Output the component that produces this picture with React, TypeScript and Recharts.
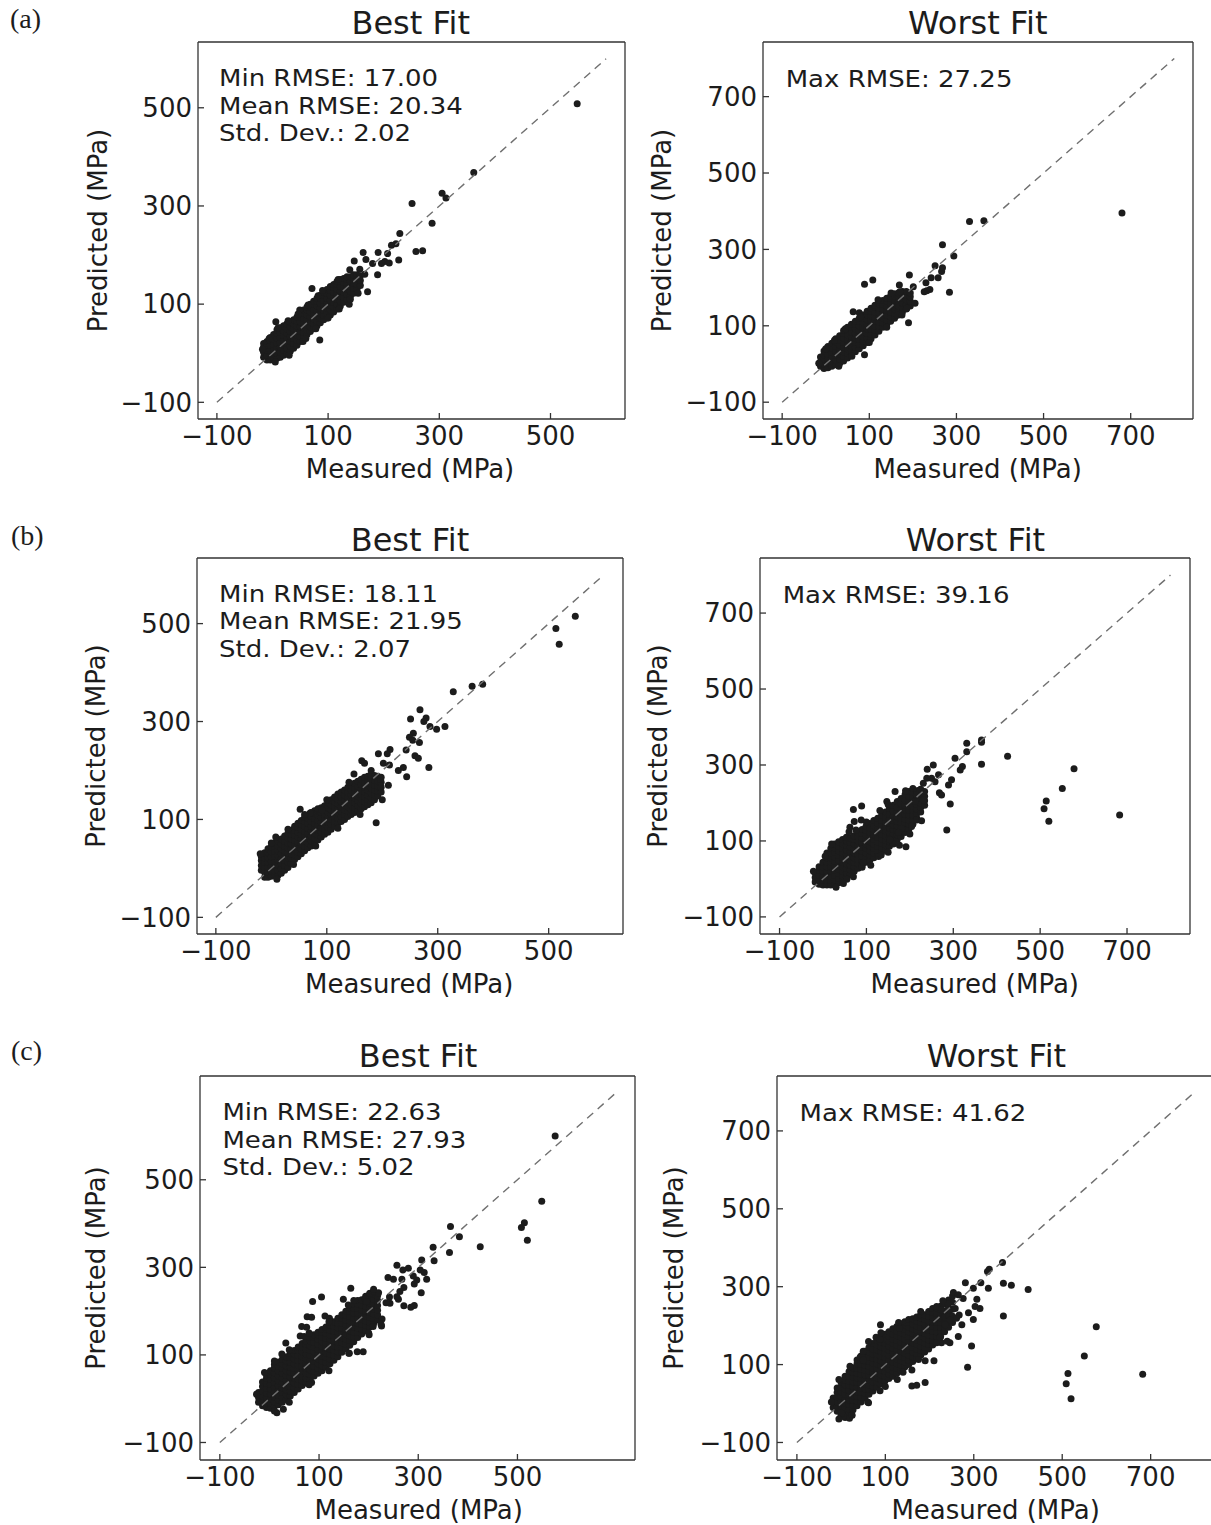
import React from 'react';
import { ScatterChart, Scatter, XAxis, YAxis } from 'recharts';

type P = [number, number];
type Col = [number, number[]];

// ---------- (a) Best fit ----------
const bestACols: Col[] = [
[-16, [-8, 2, 12, 20]],
[-10, [-14, -4, 6, 16, 24]],
[-4, [-14, -4, 6, 16, 26, 32]],
[2, [-12, -2, 8, 18, 28, 38]],
[8, [-10, 0, 10, 20, 30, 40, 48]],
[14, [-8, 2, 12, 22, 32, 42, 52]],
[20, [-4, 6, 16, 26, 36, 46, 56]],
[26, [0, 10, 20, 30, 40, 50, 60]],
[32, [4, 14, 24, 34, 44, 54, 64]],
[38, [10, 20, 30, 40, 50, 60, 68]],
[44, [16, 26, 36, 46, 56, 66, 74]],
[50, [24, 34, 44, 54, 64, 74, 82]],
[56, [32, 42, 52, 62, 72, 82, 88]],
[62, [38, 48, 58, 68, 78, 88, 94]],
[68, [44, 54, 64, 74, 84, 94, 100]],
[74, [50, 60, 70, 80, 90, 100, 106]],
[80, [56, 66, 76, 86, 96, 106, 112]],
[86, [62, 72, 82, 92, 102, 112, 118]],
[92, [68, 78, 88, 98, 108, 118, 124]],
[98, [72, 82, 92, 102, 112, 122, 130]],
[104, [78, 88, 98, 108, 118, 128, 136]],
[110, [84, 94, 104, 114, 124, 134, 140]],
[116, [90, 100, 110, 120, 130, 140, 146]],
[122, [96, 106, 116, 126, 136, 146, 150]],
[128, [104, 114, 124, 134, 144, 152]],
[134, [110, 120, 130, 140, 150, 156]],
[140, [116, 126, 136, 146, 156]],
[146, [122, 132, 142, 152, 160]],
[152, [130, 140, 150, 160]],
[158, [138, 148, 158]],
];
const bestAOut: P[] = [
[305,326],[312,316],[251,305],[287,265],[258,207],[270,209],[229,244],[222,223],[214,220],[227,190],[207,203],[190,205],[202,187],[196,183],[210,184],[189,160],[163,205],[168,191],[147,188],[180,183],[171,125],[139,170],[157,171],[166,161],[71,132],[82,117],[85,27],[6,64],[55,24],[49,88],[138,100],[154,122],[362,368],[548,508],
[-18,8],[-6,30],[10,52],[28,66],[46,80],[64,98],[90,128],[118,150],[60,30],[78,50],[100,72],[120,90],[140,110],[5,-18],[30,-4]
];

// ---------- (a) Worst fit ----------
const worstACols: Col[] = [
[-12, [-6, 6, 18]],
[-4, [-12, 0, 12, 24, 34]],
[5, [-10, 2, 14, 26, 38, 46]],
[14, [-6, 6, 18, 30, 42, 54]],
[23, [-2, 10, 22, 34, 46, 58, 66]],
[32, [2, 14, 26, 38, 50, 62, 74]],
[41, [8, 20, 32, 44, 56, 68, 80, 88]],
[50, [16, 28, 40, 52, 64, 76, 88, 96]],
[59, [24, 36, 48, 60, 72, 84, 96, 104]],
[68, [32, 44, 56, 68, 80, 92, 104, 112]],
[77, [40, 52, 64, 76, 88, 100, 112, 120]],
[86, [48, 60, 72, 84, 96, 108, 120, 128]],
[95, [56, 68, 80, 92, 104, 116, 128, 138]],
[104, [66, 78, 90, 102, 114, 126, 138, 146]],
[113, [76, 88, 100, 112, 124, 136, 148, 154]],
[122, [86, 98, 110, 122, 134, 146, 158, 162]],
[131, [96, 108, 120, 132, 144, 156, 166]],
[140, [104, 116, 128, 140, 152, 164, 172]],
[149, [112, 124, 136, 148, 160, 172, 178]],
[158, [120, 132, 144, 156, 168, 178, 184]],
[167, [128, 140, 152, 164, 176, 186]],
[176, [136, 148, 160, 172, 184, 190]],
[185, [144, 156, 168, 180, 190]],
[194, [152, 164, 176, 186]],
];
const worstAOut: P[] = [
[330,373],[363,375],[268,312],[294,283],[251,257],[268,252],[266,242],[258,226],[242,226],[284,188],[230,213],[239,195],[232,192],[226,189],[192,233],[169,207],[201,202],[170,189],[190,108],[89,209],[108,220],[89,24],[63,137],[77,134],[186,146],[205,159],[164,128],[680,395],
[-16,2],[0,40],[20,62],[45,92],[80,124],[120,168],[150,186],[30,-6],[60,20],[100,56],[140,96],[175,128]
];

// ---------- (b) Best fit ----------
const bestBCols: Col[] = [
[-18, [-4, 6, 16, 24]],
[-12, [-18, -8, 2, 12, 22, 32]],
[-6, [-18, -8, 2, 12, 22, 32, 40]],
[0, [-16, -6, 4, 14, 24, 34, 44]],
[6, [-15, -5, 5, 15, 25, 35, 45, 52]],
[12, [-14, -4, 6, 16, 26, 36, 46, 56]],
[18, [-10, 0, 10, 20, 30, 40, 50, 60]],
[24, [-4, 6, 16, 26, 36, 46, 56, 66]],
[30, [2, 12, 22, 32, 42, 52, 62, 72]],
[36, [10, 20, 30, 40, 50, 60, 70, 78]],
[42, [18, 28, 38, 48, 58, 68, 78, 86]],
[48, [24, 34, 44, 54, 64, 74, 84, 92]],
[54, [30, 40, 50, 60, 70, 80, 90, 98]],
[60, [36, 46, 56, 66, 76, 86, 96, 104]],
[66, [42, 52, 62, 72, 82, 92, 102, 108]],
[72, [46, 56, 66, 76, 86, 96, 106, 114]],
[78, [52, 62, 72, 82, 92, 102, 112, 118]],
[84, [58, 68, 78, 88, 98, 108, 118, 122]],
[90, [64, 74, 84, 94, 104, 114, 124]],
[96, [70, 80, 90, 100, 110, 120, 128]],
[102, [74, 84, 94, 104, 114, 124, 134]],
[108, [80, 90, 100, 110, 120, 130, 140]],
[114, [86, 96, 106, 116, 126, 136, 146]],
[120, [92, 102, 112, 122, 132, 142, 152]],
[126, [96, 106, 116, 126, 136, 146, 156]],
[132, [100, 110, 120, 130, 140, 150, 160]],
[138, [106, 116, 126, 136, 146, 156, 166]],
[144, [110, 120, 130, 140, 150, 160, 170]],
[150, [114, 124, 134, 144, 154, 164, 174]],
[156, [118, 128, 138, 148, 158, 168, 178]],
[162, [122, 132, 142, 152, 162, 172, 182]],
[168, [126, 136, 146, 156, 166, 176, 186]],
[174, [130, 140, 150, 160, 170, 180, 188]],
[180, [134, 144, 154, 164, 174, 184, 192]],
[186, [140, 150, 160, 170, 180, 190]],
[192, [148, 158, 168, 178, 188]],
[198, [156, 166, 176, 186]],
];
const bestBOut: P[] = [
[268,324],[251,305],[279,307],[275,300],[286,290],[298,284],[313,290],[256,276],[249,268],[255,262],[267,257],[243,242],[259,230],[265,225],[284,206],[214,243],[209,234],[193,234],[163,220],[168,215],[238,206],[244,187],[202,215],[213,211],[229,200],[149,193],[189,93],[52,121],[91,119],[70,113],[8,64],[211,170],[197,182],[328,361],[362,372],[381,376],[513,490],[519,458],[548,515],
[-20,30],[0,52],[30,80],[60,110],[100,140],[140,176],[180,200],[10,-22],[40,8],[80,46],[120,82],[160,110],[200,140]
];

// ---------- (b) Worst fit ----------
const worstBCols: Col[] = [
[-18, [-8, 4, 16]],
[-9, [-14, -2, 10, 22, 32]],
[0, [-16, -4, 8, 20, 32, 44]],
[9, [-16, -4, 8, 20, 32, 44, 56, 68]],
[18, [-16, -4, 8, 20, 32, 44, 56, 68, 80]],
[27, [-14, -2, 10, 22, 34, 46, 58, 70, 82, 92]],
[36, [-10, 2, 14, 26, 38, 50, 62, 74, 86, 98]],
[45, [-4, 8, 20, 32, 44, 56, 68, 80, 92, 104]],
[54, [4, 16, 28, 40, 52, 64, 76, 88, 100, 110]],
[63, [12, 24, 36, 48, 60, 72, 84, 96, 108]],
[72, [20, 32, 44, 56, 68, 80, 92, 104, 114]],
[81, [28, 40, 52, 64, 76, 88, 100, 112, 122]],
[90, [36, 48, 60, 72, 84, 96, 108, 120, 130]],
[99, [44, 56, 68, 80, 92, 104, 116, 128, 138]],
[108, [50, 62, 74, 86, 98, 110, 122, 134, 146]],
[117, [56, 68, 80, 92, 104, 116, 128, 140, 154]],
[126, [62, 74, 86, 98, 110, 122, 134, 146, 160]],
[135, [70, 82, 94, 106, 118, 130, 142, 154, 168]],
[144, [78, 90, 102, 114, 126, 138, 150, 162, 176]],
[153, [86, 98, 110, 122, 134, 146, 158, 170, 186]],
[162, [94, 106, 118, 130, 142, 154, 166, 178, 194]],
[171, [104, 116, 128, 140, 152, 164, 176, 188, 204]],
[180, [112, 124, 136, 148, 160, 172, 184, 198, 212]],
[189, [122, 134, 146, 158, 170, 182, 194, 208, 222]],
[198, [132, 144, 156, 168, 180, 192, 206, 218, 230]],
[207, [144, 156, 168, 180, 192, 204, 216, 228, 238]],
[216, [160, 172, 184, 196, 208, 220, 232]],
[225, [176, 188, 200, 212, 224, 236]],
[234, [194, 206, 218, 230]],
];
const worstBOut: P[] = [
[365,366],[365,360],[331,357],[331,335],[365,302],[304,318],[321,296],[316,287],[254,300],[240,289],[266,274],[250,265],[258,256],[296,261],[289,247],[268,227],[273,221],[293,197],[285,129],[231,252],[239,265],[223,234],[216,221],[212,204],[231,208],[166,230],[147,204],[131,180],[216,155],[227,153],[204,138],[70,183],[89,192],[88,155],[72,151],[62,136],[76,129],[162,92],[176,89],[191,85],[128,59],[134,63],[90,31],[93,43],[55,-1],[47,-12],[181,133],[174,122],[154,103],[425,323],[578,290],[551,238],[514,205],[509,185],[520,152],[683,168],
[-22,20],[5,60],[20,92],[60,124],[100,150],[150,196],[190,232],[30,-22],[70,6],[110,36],[150,70],[200,118]
];

// ---------- (c) Best fit ----------
const bestCCols: Col[] = [
[-22, [-8, 3, 14]],
[-14, [-16, -5, 6, 17, 28, 38]],
[-6, [-20, -9, 2, 13, 24, 35, 46, 54]],
[2, [-22, -11, 0, 11, 22, 33, 44, 55, 64]],
[10, [-18, -7, 4, 15, 26, 37, 48, 59, 70, 78]],
[18, [-14, -3, 8, 19, 30, 41, 52, 63, 74, 84]],
[26, [-8, 3, 14, 25, 36, 47, 58, 69, 80, 90]],
[34, [-2, 9, 20, 31, 42, 53, 64, 75, 86, 96]],
[42, [6, 17, 28, 39, 50, 61, 72, 83, 94, 104]],
[50, [14, 25, 36, 47, 58, 69, 80, 91, 102, 110]],
[58, [22, 33, 44, 55, 66, 77, 88, 99, 110, 118]],
[66, [30, 41, 52, 63, 74, 85, 96, 107, 118, 126]],
[74, [36, 47, 58, 69, 80, 91, 102, 113, 124, 132]],
[82, [44, 55, 66, 77, 88, 99, 110, 121, 132, 140]],
[90, [52, 63, 74, 85, 96, 107, 118, 129, 140, 146]],
[98, [58, 69, 80, 91, 102, 113, 124, 135, 146, 152]],
[106, [64, 75, 86, 97, 108, 119, 130, 141, 152, 158]],
[114, [72, 83, 94, 105, 116, 127, 138, 149, 160, 164]],
[122, [80, 91, 102, 113, 124, 135, 146, 157, 168]],
[130, [88, 99, 110, 121, 132, 143, 154, 165, 176]],
[138, [96, 107, 118, 129, 140, 151, 162, 173, 184]],
[146, [106, 117, 128, 139, 150, 161, 172, 183, 192]],
[154, [114, 125, 136, 147, 158, 169, 180, 191, 200]],
[162, [122, 133, 144, 155, 166, 177, 188, 199, 208]],
[170, [130, 141, 152, 163, 174, 185, 196, 207, 216]],
[178, [140, 151, 162, 173, 184, 195, 206, 217, 224]],
[186, [148, 159, 170, 181, 192, 203, 214, 226]],
[194, [156, 167, 178, 189, 200, 211, 222, 234]],
[202, [164, 175, 186, 197, 208, 219, 230, 240]],
[210, [172, 183, 194, 205, 216, 227, 238]],
[218, [180, 191, 202, 213, 224, 235]],
];
const bestCOut: P[] = [
[365,393],[383,370],[425,347],[330,346],[363,334],[332,315],[307,317],[257,305],[280,298],[269,294],[304,294],[312,288],[290,280],[297,271],[317,273],[239,277],[250,273],[267,273],[292,262],[306,242],[271,254],[263,245],[260,227],[257,233],[271,212],[285,209],[292,213],[242,232],[243,218],[235,219],[227,182],[226,166],[209,165],[201,146],[164,252],[105,232],[87,222],[76,187],[85,186],[65,165],[75,163],[62,143],[70,142],[33,127],[25,102],[161,104],[177,107],[189,107],[85,37],[28,-24],[15,-32],[112,189],[121,184],[203,241],[211,245],[220,242],[193,229],[196,222],[149,227],[159,214],[576,600],[549,451],[514,402],[508,391],[520,362],
[-26,10],[-10,60],[10,86],[40,112],[80,150],[120,176],[170,224],[210,250],[10,-28],[40,-8],[80,32],[120,64],[160,104],[200,150],[225,170]
];

// ---------- (c) Worst fit ----------
const worstCCols: Col[] = [
[-18, [-10, 2, 14]],
[-9, [-20, -8, 4, 16, 28, 40]],
[0, [-30, -18, -6, 6, 18, 30, 42, 54]],
[9, [-36, -24, -12, 0, 12, 24, 36, 48, 60, 70]],
[18, [-26, -14, -2, 10, 22, 34, 46, 58, 70, 82]],
[27, [-16, -4, 8, 20, 32, 44, 56, 68, 80, 92]],
[36, [-6, 6, 18, 30, 42, 54, 66, 78, 90, 102, 112]],
[45, [4, 16, 28, 40, 52, 64, 76, 88, 100, 112, 122]],
[54, [14, 26, 38, 50, 62, 74, 86, 98, 110, 122, 134]],
[63, [24, 36, 48, 60, 72, 84, 96, 108, 120, 132, 144]],
[72, [32, 44, 56, 68, 80, 92, 104, 116, 128, 140, 154]],
[81, [42, 54, 66, 78, 90, 102, 114, 126, 138, 150, 162]],
[90, [50, 62, 74, 86, 98, 110, 122, 134, 146, 158, 170]],
[99, [58, 70, 82, 94, 106, 118, 130, 142, 154, 166, 178]],
[108, [64, 76, 88, 100, 112, 124, 136, 148, 160, 172, 184]],
[117, [70, 82, 94, 106, 118, 130, 142, 154, 166, 178, 192]],
[126, [78, 90, 102, 114, 126, 138, 150, 162, 174, 186, 198]],
[135, [86, 98, 110, 122, 134, 146, 158, 170, 182, 194, 204]],
[144, [94, 106, 118, 130, 142, 154, 166, 178, 190, 202, 210]],
[153, [100, 112, 124, 136, 148, 160, 172, 184, 196, 208, 216]],
[162, [108, 120, 132, 144, 156, 168, 180, 192, 204, 218]],
[171, [116, 128, 140, 152, 164, 176, 188, 200, 212, 222]],
[180, [124, 136, 148, 160, 172, 184, 196, 208, 220, 228]],
[189, [132, 144, 156, 168, 180, 192, 204, 216, 228]],
[198, [140, 152, 164, 176, 188, 200, 212, 224, 236]],
[207, [150, 162, 174, 186, 198, 210, 222, 234, 244]],
[216, [160, 172, 184, 196, 208, 220, 232, 246]],
[225, [172, 184, 196, 208, 220, 234, 250]],
[234, [184, 196, 208, 222, 238, 256]],
[243, [196, 212, 228, 246, 266]],
[252, [208, 224, 242, 260, 276]],
];
const worstCOut: P[] = [
[365,362],[335,345],[331,339],[281,310],[316,310],[299,296],[333,296],[367,309],[385,304],[423,293],[254,285],[265,279],[276,270],[307,268],[303,249],[314,244],[288,233],[299,216],[367,225],[242,257],[246,240],[258,244],[216,249],[227,240],[267,227],[261,219],[273,202],[265,172],[246,156],[227,156],[295,148],[286,93],[210,110],[190,54],[160,45],[171,47],[89,202],[79,170],[88,165],[62,159],[43,119],[50,112],[132,193],[175,113],[160,86],[127,62],[88,33],[62,2],[19,-38],[5,-32],[1,-25],[216,156],[224,170],[246,214],[235,202],[577,197],[550,122],[513,77],[509,51],[520,12],[682,75],
[-22,4],[-5,62],[20,96],[50,134],[90,182],[130,208],[180,236],[230,264],[-5,-40],[25,-30],[60,4],[100,44],[140,80],[190,110],[240,160]
];

const ticks4 = [-100, 100, 300, 500];
const ticks5 = [-100, 100, 300, 500, 700];

const FONT = "'DejaVu Sans', 'Bitstream Vera Sans', sans-serif";
const INK = '#1c1c1c';
const FRAME = '#333333';

const fmt = (v: number) => (v < 0 ? '\u2212' + Math.abs(v) : String(v));

// reshape column lists + outliers into {x, y} rows
const rows = (cols: Col[], out: P[]) => {
  const r: { x: number; y: number }[] = [];
  cols.forEach(([x, ys]) => ys.forEach((y) => r.push({ x, y })));
  out.forEach(([x, y]) => r.push({ x, y }));
  return r;
};

const Dot = (props: any) => {
  if (props.cx == null || props.cy == null) return null;
  return <circle cx={props.cx} cy={props.cy} r={3.5} fill={INK} />;
};
const NoDot = () => <g />;

interface PanelProps {
  left: number;
  top: number;
  w: number;
  h: number;
  domain: [number, number];
  ticks: number[];
  data: { x: number; y: number }[];
  lineMax: number;
}

const WY = 90;
const HX = 45;

function Panel({ left, top, w, h, domain, ticks, data, lineMax }: PanelProps) {
  const tickStyle = { fill: INK, fontSize: 26, fontFamily: FONT };
  const lineStyle = { stroke: FRAME, strokeWidth: 1.3 };
  const diag = [
    { x: -100, y: -100 },
    { x: lineMax, y: lineMax },
  ];
  return (
    <div style={{ position: 'absolute', left: left - WY, top: top - 1 }}>
      <ScatterChart
        width={WY + w + 1}
        height={1 + h + HX}
        margin={{ top: 0, right: 0, bottom: 0, left: 0 }}
      >
        <XAxis
          xAxisId="b"
          dataKey="x"
          type="number"
          orientation="bottom"
          domain={domain}
          ticks={ticks}
          interval={0}
          allowDataOverflow
          height={HX}
          tickSize={-6}
          tickMargin={13.5}
          tick={tickStyle}
          tickFormatter={fmt}
          axisLine={lineStyle}
          tickLine={lineStyle}
        />
        <XAxis
          xAxisId="t"
          type="number"
          orientation="top"
          domain={domain}
          ticks={ticks}
          interval={0}
          allowDataOverflow
          height={1}
          tickSize={-6}
          tick={false}
          axisLine={lineStyle}
          tickLine={lineStyle}
        />
        <YAxis
          yAxisId="l"
          dataKey="y"
          type="number"
          orientation="left"
          domain={domain}
          ticks={ticks}
          interval={0}
          allowDataOverflow
          width={WY}
          tickSize={-6}
          tickMargin={12}
          tick={tickStyle}
          tickFormatter={fmt}
          axisLine={lineStyle}
          tickLine={lineStyle}
        />
        <YAxis
          yAxisId="r"
          type="number"
          orientation="right"
          domain={domain}
          ticks={ticks}
          interval={0}
          allowDataOverflow
          width={1}
          tickSize={-6}
          tick={false}
          axisLine={lineStyle}
          tickLine={lineStyle}
        />
        <Scatter
          xAxisId="b"
          yAxisId="l"
          data={data}
          shape={Dot}
          isAnimationActive={false}
        />
        <Scatter
          xAxisId="b"
          yAxisId="l"
          data={diag}
          shape={NoDot}
          line={{ stroke: '#707070', strokeWidth: 1.4, strokeDasharray: '8 6' }}
          isAnimationActive={false}
        />
      </ScatterChart>
    </div>
  );
}

const titles = [
  { t: 'Best Fit', x: 410.7, y: 34.3 },
  { t: 'Worst Fit', x: 977.8, y: 34.3 },
  { t: 'Best Fit', x: 410, y: 550.7 },
  { t: 'Worst Fit', x: 975.4, y: 550.7 },
  { t: 'Best Fit', x: 418.1, y: 1066.7 },
  { t: 'Worst Fit', x: 996.4, y: 1067.3 },
];

// annotation lines, each with its baseline
const NOTE_FS = 23.5;
const NOTE_SX = 1.106;
const notes = [
  { t: 'Min RMSE: 17.00', x: 219, y: 86.1 },
  { t: 'Mean RMSE: 20.34', x: 219, y: 113.6 },
  { t: 'Std. Dev.: 2.02', x: 219, y: 141.1 },
  { t: 'Max RMSE: 27.25', x: 785.7, y: 87.3 },
  { t: 'Min RMSE: 18.11', x: 219, y: 601.6 },
  { t: 'Mean RMSE: 21.95', x: 219, y: 629.1 },
  { t: 'Std. Dev.: 2.07', x: 219, y: 656.6 },
  { t: 'Max RMSE: 39.16', x: 782.7, y: 603.3 },
  { t: 'Min RMSE: 22.63', x: 222.4, y: 1120.3 },
  { t: 'Mean RMSE: 27.93', x: 222.4, y: 1147.8 },
  { t: 'Std. Dev.: 5.02', x: 222.4, y: 1175.3 },
  { t: 'Max RMSE: 41.62', x: 799.6, y: 1121 },
];

const xLabels = [
  { x: 410, y: 478.3 },
  { x: 977.6, y: 478.3 },
  { x: 409.2, y: 993.3 },
  { x: 974.8, y: 993.3 },
  { x: 418.7, y: 1519 },
  { x: 995.6, y: 1519 },
];

const yLabels = [
  { x: 107, y: 230.5 },
  { x: 671, y: 230.5 },
  { x: 104.5, y: 746 },
  { x: 667, y: 746 },
  { x: 104.6, y: 1268 },
  { x: 683, y: 1268 },
];

const letters = [
  { t: '(a)', x: 10, y: 28.3 },
  { t: '(b)', x: 11, y: 545 },
  { t: '(c)', x: 11, y: 1060 },
];

export default function App() {
  return (
    <div
      style={{
        position: 'absolute',
        left: 0,
        top: 0,
        width: 1211,
        height: 1525,
        overflow: 'hidden',
        background: '#ffffff',
      }}
    >
      <Panel left={198} top={42} w={427} h={377} domain={[-134, 634]} ticks={ticks4} data={rows(bestACols, bestAOut)} lineMax={600} />
      <Panel left={763} top={42} w={430} h={377} domain={[-144, 843]} ticks={ticks5} data={rows(worstACols, worstAOut)} lineMax={800} />
      <Panel left={197} top={558} w={426} h={376} domain={[-134, 634]} ticks={ticks4} data={rows(bestBCols, bestBOut)} lineMax={600} />
      <Panel left={760} top={558} w={430} h={376} domain={[-145, 845]} ticks={ticks5} data={rows(worstBCols, worstBOut)} lineMax={800} />
      <Panel left={200} top={1076} w={435} h={384} domain={[-140, 737]} ticks={ticks4} data={rows(bestCCols, bestCOut)} lineMax={700} />
      <Panel left={777} top={1076} w={436} h={384} domain={[-145, 841]} ticks={ticks5} data={rows(worstCCols, worstCOut)} lineMax={800} />
      <svg
        width={1211}
        height={1525}
        style={{ position: 'absolute', left: 0, top: 0, pointerEvents: 'none' }}
      >
        {titles.map((d, i) => (
          <text key={'t' + i} x={d.x} y={d.y} textAnchor="middle" fontSize={32} fontFamily={FONT} fill={INK}>
            {d.t}
          </text>
        ))}
        {notes.map((d, i) => (
          <text
            key={'n' + i}
            x={0}
            y={0}
            textAnchor="start"
            fontSize={NOTE_FS}
            fontFamily={FONT}
            fill={INK}
            transform={`translate(${d.x} ${d.y}) scale(${NOTE_SX} 1)`}
          >
            {d.t}
          </text>
        ))}
        {xLabels.map((d, i) => (
          <text key={'x' + i} x={d.x} y={d.y} textAnchor="middle" fontSize={26} fontFamily={FONT} fill={INK}>
            Measured (MPa)
          </text>
        ))}
        {yLabels.map((d, i) => (
          <text
            key={'y' + i}
            x={d.x}
            y={d.y}
            textAnchor="middle"
            fontSize={26}
            fontFamily={FONT}
            fill={INK}
            transform={`rotate(-90 ${d.x} ${d.y})`}
          >
            Predicted (MPa)
          </text>
        ))}
        {letters.map((d, i) => (
          <text key={'l' + i} x={d.x} y={d.y} fontSize={28} fontFamily="'Liberation Serif', 'Times New Roman', serif" fill={INK}>
            {d.t}
          </text>
        ))}
      </svg>
    </div>
  );
}
